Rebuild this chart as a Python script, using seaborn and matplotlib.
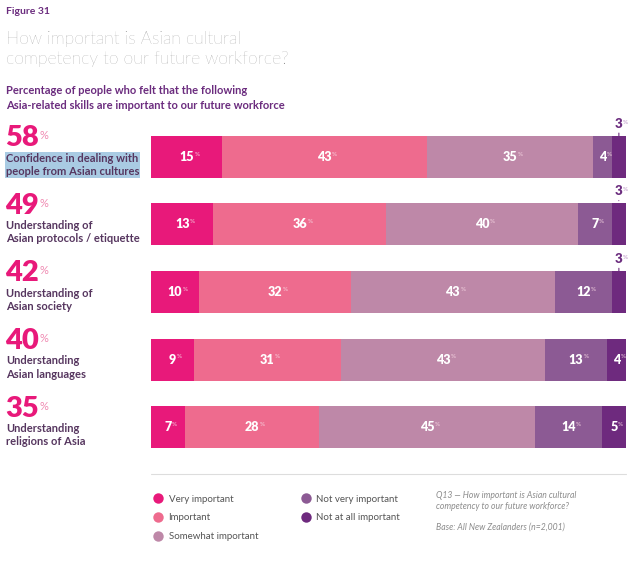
import numpy as np
import pandas as pd
import matplotlib.pyplot as plt
import matplotlib.transforms as mtransforms
from matplotlib.lines import Line2D
import seaborn as sns

# Data
skills = ["Confidence in dealing with\npeople from Asian cultures",
          "Understanding of\nAsian protocols / etiquette",
          "Understanding of\nAsian society",
          "Understanding\nAsian languages",
          "Understanding\nreligions of Asia"]
important_total = [58, 49, 42, 40, 35]
levels = ["Very important", "Important", "Somewhat important",
          "Not very important", "Not at all important"]
very_important = [15, 13, 10, 9, 7]
important = [43, 36, 32, 31, 28]
somewhat_important = [35, 40, 43, 43, 45]
not_very_important = [4, 7, 12, 13, 14]
not_at_all_important = [3, 3, 3, 4, 5]

colors = ["#E8197A", "#EE6B8E", "#BE88A8", "#8C5A94", "#6E2A7E"]
purple = "#6B2C7E"
label_col = "#56365F"

sns.set_theme(style="white")
plt.rcParams["font.family"] = ["Lato", "DejaVu Sans"]

df = pd.DataFrame({"skill": skills,
                   levels[0]: very_important,
                   levels[1]: important,
                   levels[2]: somewhat_important,
                   levels[3]: not_very_important,
                   levels[4]: not_at_all_important})
# rows are drawn full width (rounded values may add up to 99)
totals = df[levels].sum(axis=1)
cum = df[levels].cumsum(axis=1).div(totals, axis=0) * 100
share = df[levels].div(totals, axis=0) * 100

fig = plt.figure(figsize=(6.41, 5.64), dpi=100)
ax = fig.add_axes([0.2356, 0.1826, 0.741, 0.5993])

# Stacked bars: draw cumulative totals from largest to smallest
for k in range(len(levels) - 1, -1, -1):
    sns.barplot(x=cum[levels[k]], y=df["skill"], color=colors[k], orient="h",
                width=0.62, linewidth=0, saturation=1, ax=ax)

ax.set_xlim(0, 100)
ax.set_ylim(4.5, -0.5)
ax.axis("off")

# Value labels
for i in range(len(skills)):
    for k in range(len(levels)):
        val = df[levels[k]][i]
        center = cum[levels[k]][i] - share[levels[k]][i] / 2
        if val <= 3:
            t = ax.annotate(str(val), xy=(center, i - 0.31), xytext=(0, 4.5),
                            textcoords="offset points", ha="center", va="bottom",
                            color=purple, fontsize=9.5, fontweight="heavy")
            ax.annotate("", xy=(center, i - 0.31), xytext=(0, 4),
                        textcoords="offset points",
                        arrowprops=dict(arrowstyle="-", color=purple, lw=0.8))
            ax.annotate("%", xy=(1, 1), xycoords=t, xytext=(0.3, -1.5),
                        textcoords="offset points", ha="left", va="top",
                        color="#B58BC0", fontsize=4.5)
        else:
            t = ax.text(center, i, str(val), ha="center", va="center",
                        color="white", fontsize=9, fontweight="heavy")
            ax.annotate("%", xy=(1, 1), xycoords=t, xytext=(0.3, -0.5),
                        textcoords="offset points", ha="left", va="top",
                        color="#F6D5E2", fontsize=4.5)

# Left-hand labels
trans = mtransforms.blended_transform_factory(ax.transAxes, ax.transData)
for i in range(len(skills)):
    big = ax.annotate(str(important_total[i]), xy=(0, i), xycoords=trans,
                      xytext=(-105, 4), textcoords="offset points",
                      ha="left", va="bottom", color="#E8197A",
                      fontsize=21, fontweight="heavy")
    ax.annotate("%", xy=(1, 1), xycoords=big, xytext=(0.3, -3.5),
                textcoords="offset points", ha="left", va="top",
                color="#F08AB2", fontsize=8)
    box = None
    if i == 0:
        box = dict(boxstyle="square,pad=0.1", facecolor="#A9CBE3", edgecolor="none")
    ax.annotate(skills[i], xy=(0, i), xycoords=trans,
                xytext=(-104.5, 3), textcoords="offset points",
                ha="left", va="top", color=label_col, fontsize=8,
                fontweight="bold", linespacing=1.25, bbox=box)

# Separator line
fig.add_artist(Line2D([0.2356, 0.9766], [1 - 474 / 564, 1 - 474 / 564],
                      color="#DDDDDD", lw=0.8))

# Titles
fig.text(0.0094, 1 - 11 / 564, "Figure 31", color=purple, fontsize=7.5,
         fontweight="bold", va="center")
fig.text(0.0094, 1 - 49 / 564,
         "How important is Asian cultural\ncompetency to our future workforce?",
         color="#828282", fontsize=12.7, fontweight="light", va="center",
         linespacing=1.3)
fig.text(0.0094, 1 - 98 / 564,
         "Percentage of people who felt that the following\n"
         "Asia-related skills are important to our future workforce",
         color=purple, fontsize=8, fontweight="bold", va="center",
         linespacing=1.5)

# Legend
handles = [Line2D([], [], marker="o", linestyle="none", markersize=7.5,
                  markerfacecolor=c, markeredgecolor="none") for c in colors]
fig.legend(handles, levels, ncol=2, loc="upper left",
           bbox_to_anchor=(0.225, 1 - 486 / 564), frameon=False,
           fontsize=7, labelcolor="#555555", handletextpad=0.6,
           columnspacing=4.4, labelspacing=1.0, handlelength=1.0)

# Footnote
fig.text(0.680, 1 - 501 / 564,
         "Q13 \u2014 How important is Asian cultural\n"
         "competency to our future workforce?",
         color="#8C8C8C", fontsize=6.2, style="italic", va="center",
         linespacing=1.2)
fig.text(0.680, 1 - 527 / 564, "Base: All New Zealanders (n=2,001)",
         color="#8C8C8C", fontsize=6.2, style="italic", va="center")

plt.savefig("out.png", dpi=100)
